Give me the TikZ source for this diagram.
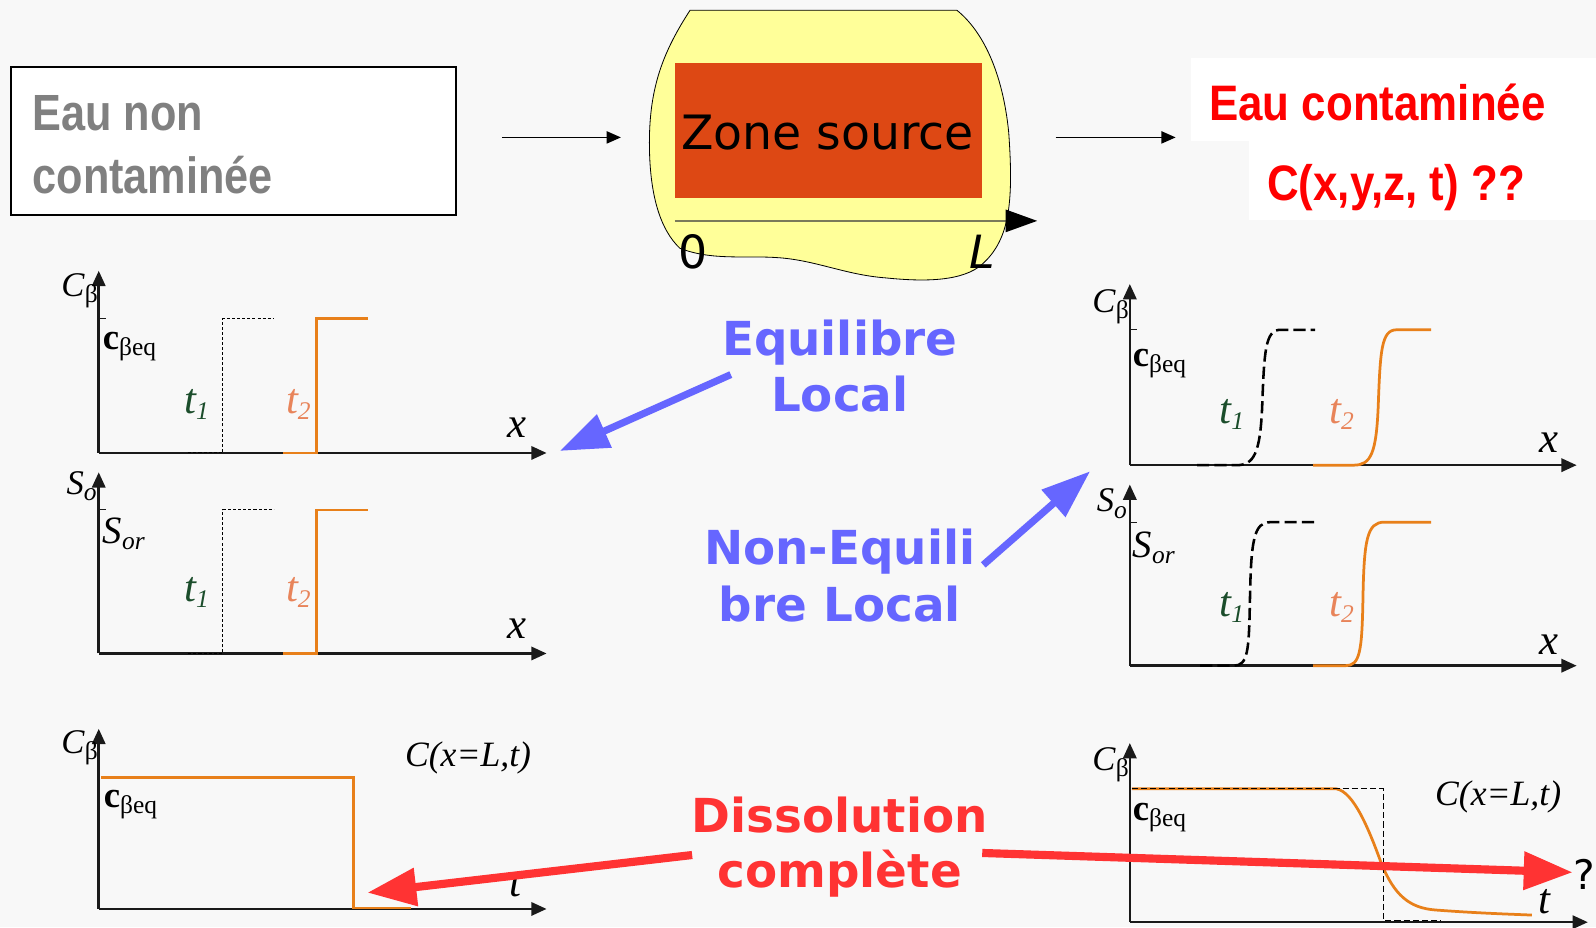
\documentclass[tikz,border=0pt]{standalone}
\usepackage{fontspec}
\setmainfont{Liberation Serif}
\newfontfamily\narrowfont[FakeStretch=0.85]{Liberation Sans}
\newfontfamily\rednarrowfont[FakeStretch=0.88]{Liberation Sans}
\newfontfamily\dejavufont{DejaVu Sans}
\usetikzlibrary{arrows.meta,positioning,calc}

\definecolor{pagebg}{HTML}{F8F8F8}
\definecolor{axisgray}{HTML}{1A1A1A}
\definecolor{headgray}{HTML}{808080}
\definecolor{curveorange}{HTML}{E8801A}
\definecolor{labelorange}{HTML}{E8845A}
\definecolor{labelgreen}{HTML}{1B4D2B}
\definecolor{eqblue}{HTML}{6666FF}
\definecolor{dissred}{HTML}{FF3333}
\definecolor{sourcefill}{HTML}{DD4814}
\definecolor{blobyellow}{HTML}{FFFF99}
\definecolor{blobaxis}{HTML}{7A7A5A}

\newcommand{\idx}[1]{\raisebox{-6pt}{\fontsize{25}{25}\selectfont #1}}

\begin{document}
\begin{tikzpicture}[x=1pt, y=-1pt,
  txt/.style={inner sep=0pt, outer sep=0pt, anchor=base west},
  ctxt/.style={inner sep=0pt, outer sep=0pt, anchor=base},
  grayhead/.style={txt, text=headgray, font=\narrowfont\bfseries\fontsize{50}{60}\selectfont},
  redhead/.style={txt, text=red, font=\rednarrowfont\bfseries\fontsize{49}{58}\selectfont},
  bluelab/.style={ctxt, text=eqblue, font=\dejavufont\bfseries\fontsize{46}{55}\selectfont},
  redlab/.style={ctxt, text=dissred, font=\dejavufont\bfseries\fontsize{46}{55}\selectfont},
  axlab/.style={txt, font=\fontsize{34}{34}\selectfont},
  ital/.style={txt, font=\itshape\fontsize{42}{42}\selectfont},
  whitepatch/.style={fill=white, inner sep=0pt, outer sep=0pt},
  flow/.style={-{Triangle[length=14pt,width=12pt]}, line width=1.5pt},
  axisln/.style={draw=axisgray, line width=2.5pt, -{Triangle[length=15pt,width=13pt]}},
  tickln/.style={draw=axisgray, line width=1pt},
  eqstep/.style={line width=1pt, dash pattern=on 3pt off 2pt},
  neqdash/.style={line width=2.5pt, dash pattern=on 12pt off 5pt},
  thindash/.style={line width=1.2pt, dash pattern=on 6pt off 3pt},
  orangeln/.style={draw=curveorange, line width=2.7pt},
  bluearr/.style={draw=eqblue, line width=7pt, -{Triangle[length=48pt,width=34pt]}},
  redarr/.style={draw=dissred, line width=8pt, -{Triangle[length=48pt,width=36pt]}}
]
\path[use as bounding box, fill=pagebg] (0,0) rectangle (1568,911);

% ---------- top row ----------
\node[draw, line width=2pt, fill=white, minimum width=437pt, minimum height=146pt,
  inner sep=0pt] (clean) at (229.5,138.5) {};
\node[grayhead] (cleanA) at (32,128) {Eau non};
\node[grayhead] (cleanB) at (32,190) {contaminée};

\draw[fill=blobyellow, line width=0.8pt] (678,10) -- (940,10)
  .. controls (965,30) and (985,70) .. (991,130)
  .. controls (996,200) and (992,238) .. (962,262)
  .. controls (940,278) and (900,276) .. (870,273)
  .. controls (830,270) and (800,255) .. (762,253)
  .. controls (730,251) and (700,256) .. (668,244)
  .. controls (648,225) and (638,190) .. (638,140)
  .. controls (638,85) and (652,50) .. (678,10) -- cycle;
\node[fill=sourcefill, minimum width=302pt, minimum height=133pt, inner sep=0pt] (src) at (814,128.5) {};
\node[ctxt, font=\dejavufont\fontsize{46.5}{46.5}\selectfont] (srcA) at (813,147) {Zone source};
\coordinate (xzero) at (663,217);
\coordinate (xend) at (1019,217);
\draw[draw=blobaxis, line width=1.5pt, -{Triangle[length=31pt,width=22pt,color=black]}] (xzero) -- (xend);
\node[txt, font=\dejavufont\fontsize{45}{45}\selectfont] (zero) at (667,264) {0};
\node[txt, font=\dejavufont\itshape\fontsize{45}{45}\selectfont] (lend) at (952,264) {L};

\node[whitepatch, minimum width=398pt, minimum height=82pt] (patchA) at (1369,98) {};
\node[whitepatch, minimum width=341pt, minimum height=77pt] (patchB) at (1397.5,177.5) {};
\node[redhead] (contamA) at (1188,118.5) {Eau contaminée};
\node[redhead] (contamB) at (1245,196.5) {C(x,y,z, t) ??};

\coordinate (inA) at (493,135);
\coordinate (inB) at (610,135);
\coordinate (outA) at (1037,135);
\coordinate (outB) at (1155,135);
\draw[flow] (inA) -- (inB);
\draw[flow] (outA) -- (outB);

% ---------- local equilibrium, C ----------
\draw[axisln] (97,445) -- (97,266);
\draw[axisln] (97,445) -- (537,445);
\draw[tickln] (97,313) -- (104,313);
\draw[eqstep] (185,445) -- (219,445) -- (219,313) -- (269,313);
\draw[orangeln] (278,445) -- (311,445) -- (311,313) -- (362,313);
\node[axlab, anchor=base east] (cbA) at (96,291) {\textit{C}\idx{β}};
\node[axlab, font=\fontsize{36}{36}\selectfont] (ceqA) at (101,343) {\textbf{c}\idx{βeq}};
\node[ital, text=labelgreen] (tA1) at (181,406) {t\idx{1}};
\node[ital, text=labelorange] (tA2) at (281,406) {t\idx{2}};
\node[ital] (xA) at (499,430) {x};

% ---------- local equilibrium, S ----------
\draw[axisln] (97,642) -- (97,464);
\draw[axisln] (97,642) -- (537,642);
\draw[tickln] (97,501) -- (104,501);
\draw[eqstep] (185,642) -- (219,642) -- (219,501) -- (269,501);
\draw[orangeln] (278,642) -- (311,642) -- (311,501) -- (362,501);
\node[axlab, anchor=base east, font=\itshape\fontsize{34}{34}\selectfont] (soB) at (95,486) {S\idx{o}};
\node[axlab, font=\itshape\fontsize{38}{38}\selectfont] (sorB) at (101,534) {S\idx{or}};
\node[ital, text=labelgreen] (tB1) at (181,591) {t\idx{1}};
\node[ital, text=labelorange] (tB2) at (281,591) {t\idx{2}};
\node[ital] (xB) at (499,627) {x};

% ---------- local equilibrium, outlet ----------
\draw[axisln] (97,893) -- (97,716);
\draw[axisln] (97,893) -- (537,893);
\draw[orangeln] (99,764) -- (347,764) -- (347,892) -- (404,892);
\node[axlab, anchor=base east] (cbC) at (96,740) {\textit{C}\idx{β}};
\node[axlab, font=\fontsize{36}{36}\selectfont] (ceqC) at (102,793) {\textbf{c}\idx{βeq}};
\node[txt, font=\itshape\fontsize{35}{35}\selectfont] (cxlC) at (398,753) {C(x=L,t)};
\node[ital] (tC) at (501,881) {t};

% ---------- non-equilibrium, C ----------
\draw[axisln] (1110,457) -- (1110,279);
\draw[axisln] (1110,457) -- (1549,457);
\draw[tickln] (1110,324) -- (1117,324);
\draw[neqdash] (1176,457) -- (1215,457) .. controls (1232,457) and (1238,445) .. (1240,400)
  .. controls (1242,345) and (1243,324) .. (1258,324) -- (1292,324);
\draw[orangeln] (1290,457) -- (1330,457) .. controls (1347,457) and (1352,445) .. (1354,400)
  .. controls (1356,345) and (1357,324) .. (1372,324) -- (1406,324);
\node[axlab, anchor=base east] (cbD) at (1109,307) {\textit{C}\idx{β}};
\node[axlab, font=\fontsize{36}{36}\selectfont] (ceqD) at (1113,360) {\textbf{c}\idx{βeq}};
\node[ital, text=labelgreen] (tD1) at (1198,416) {t\idx{1}};
\node[ital, text=labelorange] (tD2) at (1306,416) {t\idx{2}};
\node[ital] (xD) at (1512,445) {x};

% ---------- non-equilibrium, S ----------
\draw[axisln] (1110,654) -- (1110,476);
\draw[axisln] (1110,654) -- (1549,654);
\draw[tickln] (1110,513) -- (1117,513);
\draw[neqdash] (1179,654) -- (1212,654) .. controls (1226,654) and (1227,640) .. (1228,590)
  .. controls (1229,530) and (1232,513) .. (1248,513) -- (1295,513);
\draw[orangeln] (1290,654) -- (1322,654) .. controls (1336,654) and (1338,640) .. (1339,590)
  .. controls (1340,530) and (1343,513) .. (1360,513) -- (1406,513);
\node[axlab, anchor=base east, font=\itshape\fontsize{34}{34}\selectfont] (soE) at (1107,503) {S\idx{o}};
\node[axlab, font=\itshape\fontsize{38}{38}\selectfont] (sorE) at (1113,548) {S\idx{or}};
\node[ital, text=labelgreen] (tE1) at (1198,606) {t\idx{1}};
\node[ital, text=labelorange] (tE2) at (1306,606) {t\idx{2}};
\node[ital] (xE) at (1512,643) {x};

% ---------- non-equilibrium, outlet ----------
\draw[axisln] (1110,906) -- (1110,730);
\draw[axisln] (1110,906) -- (1560,906);
\draw[orangeln] (1112,775) -- (1313,775) .. controls (1330,778) and (1345,815) .. (1357,848)
  .. controls (1370,880) and (1385,892) .. (1410,894) .. controls (1450,897) and (1480,898) .. (1505,899);
\draw[thindash] (1112,775) -- (1359,775) -- (1359,904) -- (1416,904);
\node[axlab, anchor=base east] (cbF) at (1109,757) {\textit{C}\idx{β}};
\node[axlab, font=\fontsize{36}{36}\selectfont] (ceqF) at (1113,806) {\textbf{c}\idx{βeq}};
\node[txt, font=\itshape\fontsize{35}{35}\selectfont] (cxlF) at (1410,791) {C(x=L,t)};
\node[ital] (tF) at (1511,897) {t};

% ---------- labels and pointers ----------
\node[bluelab] (eqA) at (825,349) {Equilibre};
\node[bluelab] (eqB) at (825,404) {Local};
\node[bluelab] (neqA) at (825,555) {Non-Equili};
\node[bluelab] (neqB) at (825,611) {bre Local};
\node[redlab] (dissA) at (825,818) {Dissolution};
\node[redlab] (dissB) at (825,872) {complète};
\node[txt, font=\dejavufont\fontsize{40}{40}\selectfont] (qmark) at (1546,874) {?};

\coordinate (eqtail) at (718,368);
\coordinate (eqtip) at (550,443);
\coordinate (neqtail) at (966,555);
\coordinate (neqtip) at (1071,463);
\coordinate (dltail) at (680,840);
\coordinate (dltip) at (361,877);
\coordinate (drtail) at (965,838);
\coordinate (drtip) at (1545,857);
\draw[bluearr] (eqtail) -- (eqtip);
\draw[bluearr] (neqtail) -- (neqtip);
\draw[redarr] (dltail) -- (dltip);
\draw[redarr] (drtail) -- (drtip);
\end{tikzpicture}
\end{document}
